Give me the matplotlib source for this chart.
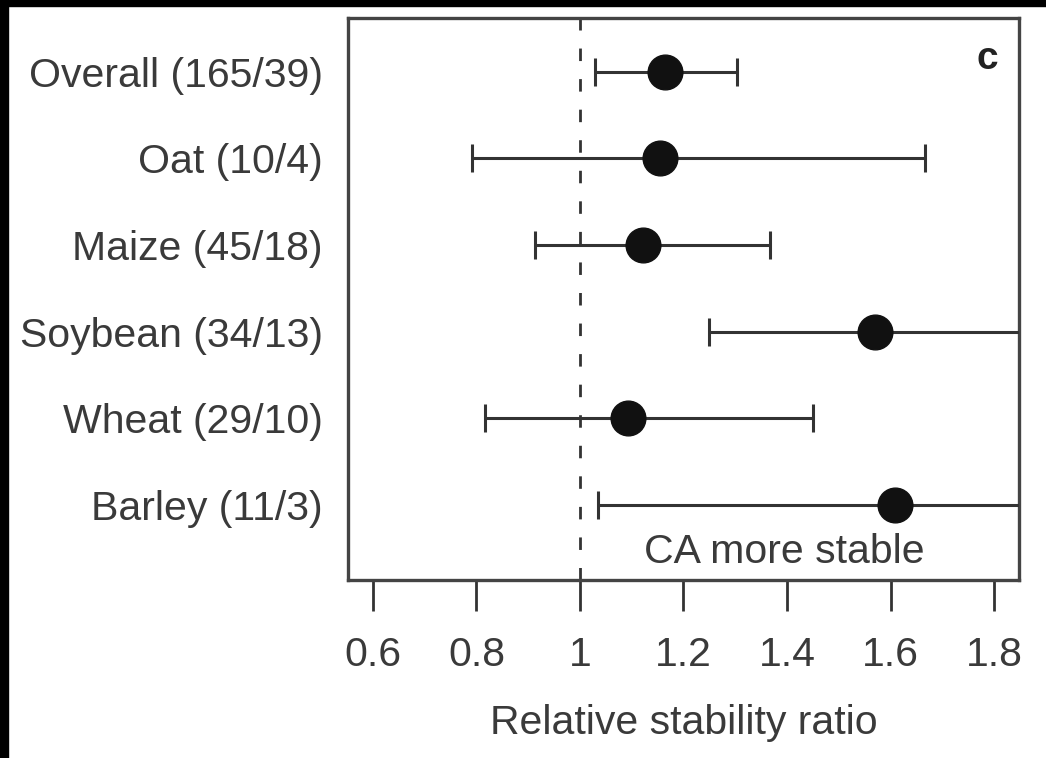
import matplotlib
matplotlib.use("Agg")
import matplotlib.pyplot as plt
from matplotlib.patches import Rectangle

plt.rcParams['font.family'] = ['Liberation Sans', 'DejaVu Sans']
plt.rcParams['lines.scale_dashes'] = False

categories = ["Overall (165/39)", "Oat (10/4)", "Maize (45/18)",
              "Soybean (34/13)", "Wheat (29/10)", "Barley (11/3)"]
estimate = [1.164, 1.154, 1.121, 1.569, 1.092, 1.608]
ci_low = [1.029, 0.791, 0.913, 1.249, 0.816, 1.034]
ci_high = [1.303, 1.666, 1.368, 2.00, 1.451, 2.20]
xticks = [0.6, 0.8, 1.0, 1.2, 1.4, 1.6, 1.8]
xticklabels = ["0.6", "0.8", "1", "1.2", "1.4", "1.6", "1.8"]

W, H = 1046, 758
fig = plt.figure(figsize=(W / 100, H / 100), dpi=100)
# black strips at top and left of the scanned figure
fig.patches.append(Rectangle((0, 0), 8 / W, 1, transform=fig.transFigure,
                             color='black', zorder=-1))
fig.patches.append(Rectangle((0, 1 - 6 / H), 1, 6 / H, transform=fig.transFigure,
                             color='black', zorder=-1))

ax = fig.add_axes([348 / W, 1 - 580 / H, (1019 - 348) / W, (580 - 18) / H])

ypos = list(range(len(categories), 0, -1))
grey = '#333333'
txt = '#3a3a3a'
fs = 29.5

ax.axvline(1.0, color=grey, lw=2.0, linestyle=(0, (9, 13)), zorder=1)

for y, e, lo, hi in zip(ypos, estimate, ci_low, ci_high):
    ax.errorbar(e, y, xerr=[[e - lo], [hi - e]], fmt='o', color='#111111',
                ecolor=grey, elinewidth=2.2, capsize=10, capthick=2.2,
                markersize=25, zorder=3, clip_on=True)

ax.set_xlim(0.552, 1.848)
ax.set_ylim(0.134, 6.62)
ax.set_xticks(xticks)
ax.set_xticklabels(xticklabels, fontsize=fs, color=txt)
ax.set_yticks(ypos)
ax.set_yticklabels(categories, fontsize=fs, color=txt)
ax.tick_params(axis='y', length=0, pad=18)
ax.tick_params(axis='x', length=22, width=2, color=grey, pad=18)
for s in ax.spines.values():
    s.set_linewidth(2.4)
    s.set_color('#444444')

ax.set_xlabel("Relative stability ratio", fontsize=fs, color=txt, labelpad=22)
ax.text(0.953, 0.927, "c", transform=ax.transAxes, fontsize=28, fontweight='bold',
        color='#222222', ha='center', va='center')
ax.text(1.395, 0.457, "CA more stable", fontsize=fs, color=txt, ha='center',
        va='center')

fig.savefig("out.png", dpi=100)
